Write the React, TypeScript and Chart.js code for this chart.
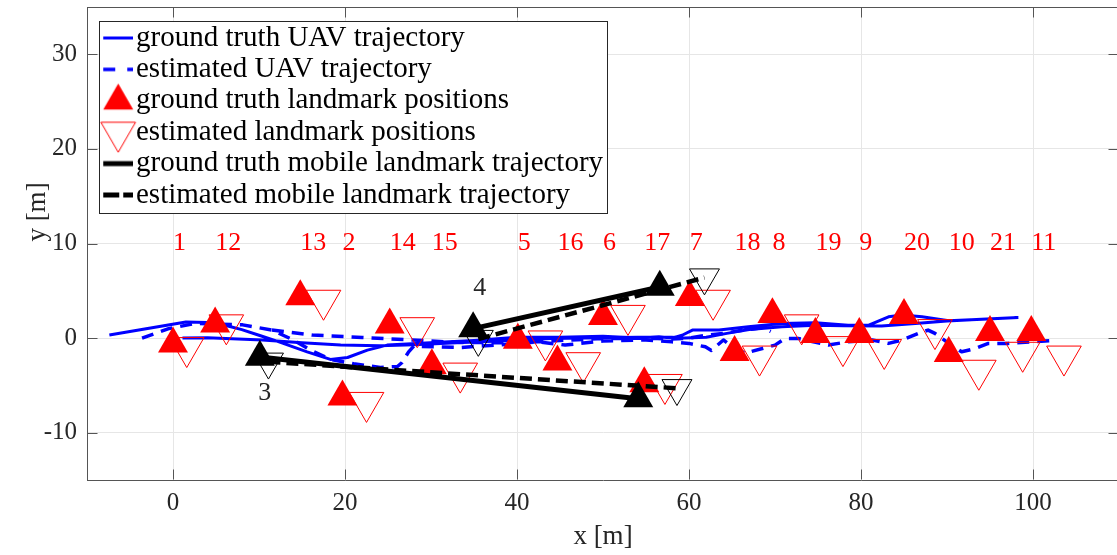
import React, { useEffect, useRef } from 'react';
import { Chart, registerables } from 'chart.js';

Chart.register(...registerables);

const FONT = "'Liberation Serif', 'Times New Roman', serif";
const BLUE = '#0000ff';
const RED = '#ff0000';
const BLACK = '#000000';

// axes
const xRange = [-10, 110];
const yRange = [-15, 35];
const xTicks = [0, 20, 40, 60, 80, 100];
const yTicks = [-10, 0, 10, 20, 30];
const xTitle = 'x [m]';
const yTitle = 'y [m]';

// static landmarks (label ids, ground truth, estimates)
const landmarkIds = [1, 12, 13, 2, 14, 15, 5, 16, 6, 17, 7, 18, 8, 19, 9, 20, 10, 21, 11];
const gtLandmarkX = [0, 4.9, 14.8, 19.7, 25.2, 30.1, 40.1, 44.7, 50.0, 54.8, 60.1, 65.3, 69.7, 74.7, 79.8, 85.0, 90.2, 95.0, 99.8];
const gtLandmarkY = [-0.6, 1.5, 4.4, -6.2, 1.4, -2.9, -0.2, -2.5, 2.3, -4.8, 4.3, -1.5, 2.5, 0.4, 0.4, 2.4, -1.6, 0.6, 0.6];
const estLandmarkX = [1.6, 6.2, 17.5, 22.5, 28.4, 33.4, 43.3, 47.7, 52.9, 57.2, 62.8, 68.2, 73.1, 77.9, 82.7, 88.6, 93.7, 98.8, 103.6];
const estLandmarkY = [-1.0, 1.4, 4.0, -6.8, 1.1, -3.7, -0.3, -2.6, 2.4, -4.9, 4.0, -1.9, 1.4, -0.9, -1.2, 0.9, -3.4, -1.5, -1.9];
const landmarkLabelY = 10;

// mobile landmarks 3 and 4
const mobileIds = [3, 4];
const gtMobileStart = [[10.1, -2.0], [34.9, 1.0]];
const gtMobileEnd = [[54.1, -6.4], [56.6, 5.4]];
const estMobileStart = [[11.1, -2.5], [35.5, -0.1]];
const estMobileEnd = [[58.6, -5.3], [61.8, 6.4]];
const mobileLabelPos = [[9.9, -5.8], [34.9, 5.3]];

// UAV trajectories (two passes each)
const gtUavA = [[-7.4, 0.32], [1.5, 1.7], [4, 1.65], [6.5, 1.25], [8, 0.9], [10, 0.3], [12, -0.3], [15.6, -1.45], [18.3, -2.25], [20.3, -2.05], [22.6, -1.27], [24.9, -0.74], [27.2, -0.63], [31, -0.45], [35, -0.25], [40, 0.1], [45, 0.1], [50, 0.2], [54, 0.0], [56.5, 0.14], [58, 0.0], [59.2, 0.3], [60.4, 0.85], [63.5, 0.85], [66.9, 1.2], [70.8, 1.55], [74.7, 1.62], [78.5, 1.37], [80.9, 1.37], [83.2, 2.25], [84.8, 2.43], [87.1, 2.25], [90.2, 1.83], [94.1, 1.98], [98.3, 2.19]];
const gtUavB = [[1.1, 0.0], [4, 0.05], [10.4, -0.2], [15, -0.5], [19.5, -0.74], [24, -0.8], [28, -0.7], [33, -0.5], [38, -0.3], [44, -0.05], [50, 0.05], [54, 0.1], [58, 0.1], [59.5, 0.0], [62, 0.1], [64.4, 0.5], [67, 0.9], [70.8, 1.2], [74.7, 1.37], [78, 1.3], [82.4, 1.27], [86.3, 1.55], [90, 1.8], [94, 2.0], [98.3, 2.19]];
const estUavA = [[-3.6, 0.0], [-0.5, 1.0], [2.6, 1.55], [8.1, 1.4], [11.5, 0.85], [14, -0.2], [16, -1.27], [18.3, -2.25], [21, -2.7], [24.1, -3.1], [26.1, -3.0], [26.6, -2.6], [27.4, -1.45], [28, -0.85], [33.4, -1.0], [38.6, -0.67], [42.5, -0.39], [45.6, -0.74], [50, -0.3], [55, -0.2], [58, -0.39], [60, -0.56], [61.9, -0.92], [62.6, -1.3], [64, -0.2], [64.7, -0.7], [66.5, -1.6], [70, -0.74], [71.2, -0.03], [72.7, -0.03], [76.2, -0.74], [78.5, -0.39], [81.3, -0.2], [83.2, -0.56], [84.8, -0.2], [86.7, 0.5], [87.8, 0.85], [88.6, 0.5], [90.2, -0.56], [91.7, -1.45], [93.3, -1.1], [94.8, -0.56], [97.1, -0.56], [102.1, -0.28]];
const estUavB = [[11.5, 0.85], [16.2, 0.32], [22, 0.07], [27.8, -0.2], [33, -0.45], [40, -0.5], [45, -0.25], [50, -0.05], [55, 0.0], [58, -0.1], [60, 0.0], [62, 0.3], [64, 0.5], [66, 0.8], [68.5, 1.1], [69.5, 0.7]];

const legendTexts = [
  'ground truth UAV trajectory',
  'estimated UAV trajectory',
  'ground truth landmark positions',
  'estimated landmark positions',
  'ground truth mobile landmark trajectory',
  'estimated mobile landmark trajectory',
];

const pts = (xs: number[], ys: number[]) => xs.map((x, i) => ({ x, y: ys[i] }));
const segs = (...list: number[][][]) => {
  const out: any[] = [];
  list.forEach((seg, k) => {
    if (k > 0) out.push({ x: seg[0][0], y: null });
    seg.forEach(([x, y]) => out.push({ x, y }));
  });
  return out;
};
const pairPts = (pairs: number[][]) => pairs.map(([x, y]) => ({ x, y }));

// legend geometry (pixels)
const LEG_FONT = 29;
const LEG_STEP = 31.4;
const LEG_PAD = LEG_STEP - LEG_FONT;
const LEG_SAMPLE_X = 118;
const LEG_TEXT_X = 136;
const LEG_ROW1_Y = 38;
const LEG_BOX = { left: 99, top: 21, right: 607, bottom: 213 };
const LEG_LEFT = 99.5;
const LEG_CURSOR_X = LEG_LEFT + LEG_PAD;
const LEG_BOXW = LEG_TEXT_X - LEG_FONT / 2 - LEG_CURSOR_X;
const LEG_SHIFT = LEG_SAMPLE_X - (LEG_CURSOR_X + LEG_BOXW / 2);
const TICK_LEN = 10;
const Y_TITLE_POS = [38, 212];

function shifted(src: HTMLCanvasElement, d: number) {
  const c = document.createElement('canvas');
  const pad = Math.max(0, Math.round(2 * d));
  c.width = src.width + pad; c.height = src.height;
  c.getContext('2d')!.drawImage(src, pad, 0);
  return c;
}
function lineImg(color: string, width: number, dash: number[]) {
  const c = document.createElement('canvas');
  c.width = 30; c.height = 10;
  const g = c.getContext('2d')!;
  g.strokeStyle = color; g.lineWidth = width; g.setLineDash(dash);
  g.beginPath(); g.moveTo(0, 5); g.lineTo(30, 5); g.stroke();
  return shifted(c, LEG_SHIFT);
}
function triImg(fill: string | null, stroke: string | null, r: number, down: boolean) {
  const s = Math.ceil(2 * r + 4);
  const c = document.createElement('canvas');
  c.width = s; c.height = s;
  const g = c.getContext('2d')!;
  const cx = s / 2;
  let rad = down ? Math.PI : 0;
  g.beginPath();
  for (let k = 0; k < 3; k++) {
    const px = cx + Math.sin(rad) * r, py = cx - Math.cos(rad) * r;
    if (k === 0) g.moveTo(px, py); else g.lineTo(px, py);
    rad += (2 * Math.PI) / 3;
  }
  g.closePath();
  if (fill) { g.fillStyle = fill; g.fill(); }
  if (stroke) { g.strokeStyle = stroke; g.lineWidth = 1; g.stroke(); }
  return shifted(c, LEG_SHIFT);
}

export default function App() {
  const ref = useRef<HTMLCanvasElement>(null);
  useEffect(() => {
    document.body.style.margin = '0';
    const legendImgs = [
      lineImg(BLUE, 3, []),
      lineImg(BLUE, 3.5, [12, 12]),
      triImg(RED, null, 17.3, false),
      triImg(null, RED, 20, true),
      lineImg(BLACK, 5, []),
      lineImg(BLACK, 5, [16, 4]),
    ];

    const framePlugin = {
      id: 'frame',
      afterLayout(chart: any) {
        const lg = chart.legend;
        if (!lg) return;
        const w = lg.width, h = lg.height;
        const top = LEG_ROW1_Y - LEG_FONT / 2 - LEG_PAD;
        lg.left = LEG_LEFT; lg.top = top; lg.right = LEG_LEFT + w; lg.bottom = top + h;
        if (!lg._bgPatched) {
          const orig = lg.draw;
          lg.draw = function (...args: any[]) {
            const ctx = chart.ctx;
            ctx.save();
            ctx.fillStyle = '#ffffff';
            ctx.fillRect(LEG_BOX.left, LEG_BOX.top, LEG_BOX.right - LEG_BOX.left, LEG_BOX.bottom - LEG_BOX.top);
            ctx.strokeStyle = '#262626';
            ctx.lineWidth = 1;
            ctx.strokeRect(LEG_BOX.left + 0.5, LEG_BOX.top + 0.5, LEG_BOX.right - LEG_BOX.left, LEG_BOX.bottom - LEG_BOX.top);
            ctx.restore();
            return orig.apply(this, args);
          };
          lg._bgPatched = true;
        }
      },
      beforeDatasetsDraw(chart: any) {
        const { ctx, chartArea: a } = chart;
        const xs = chart.scales.x, ys = chart.scales.y;
        ctx.save();
        ctx.strokeStyle = '#555555';
        ctx.lineWidth = 1;
        ctx.beginPath();
        const top = Math.round(a.top) + 0.5;
        const right = Math.round(a.right) - 0.5;
        const bottom = Math.round(a.bottom) - 0.5;
        const left = Math.round(a.left) + 0.5;
        ctx.moveTo(a.left, top); ctx.lineTo(a.right, top);
        ctx.moveTo(right, a.top); ctx.lineTo(right, a.bottom);
        xTicks.forEach((v) => {
          const px = Math.round(xs.getPixelForValue(v)) + 0.5;
          ctx.moveTo(px, bottom); ctx.lineTo(px, bottom - TICK_LEN);
          ctx.moveTo(px, top); ctx.lineTo(px, top + TICK_LEN);
        });
        yTicks.forEach((v) => {
          const py = Math.round(ys.getPixelForValue(v)) + 0.5;
          ctx.moveTo(left, py); ctx.lineTo(left + TICK_LEN, py);
          ctx.moveTo(right, py); ctx.lineTo(right - TICK_LEN, py);
        });
        ctx.stroke();
        ctx.restore();
      },
      afterDatasetsDraw(chart: any) {
        const { ctx } = chart;
        const xs = chart.scales.x, ys = chart.scales.y;
        ctx.save();
        ctx.font = `26px ${FONT}`;
        ctx.textAlign = 'left';
        ctx.textBaseline = 'middle';
        ctx.fillStyle = RED;
        landmarkIds.forEach((id, i) => {
          ctx.fillText(String(id), xs.getPixelForValue(gtLandmarkX[i]), ys.getPixelForValue(landmarkLabelY));
        });
        ctx.fillStyle = '#262626';
        mobileIds.forEach((id, i) => {
          ctx.fillText(String(id), xs.getPixelForValue(mobileLabelPos[i][0]), ys.getPixelForValue(mobileLabelPos[i][1]));
        });
        // y axis title
        ctx.font = `27px ${FONT}`;
        ctx.textAlign = 'center';
        ctx.translate(Y_TITLE_POS[0], Y_TITLE_POS[1]);
        ctx.rotate(-Math.PI / 2);
        ctx.fillText(yTitle, 0, 0);
        ctx.restore();
      },
    };

    const lineDs = (label: string, data: any[], color: string, width: number, dash: number[], order: number) => ({
      label, data, showLine: true, borderColor: color, borderWidth: width, borderDash: dash,
      borderJoinStyle: 'round', borderCapStyle: 'butt', pointRadius: 0, pointHoverRadius: 0, spanGaps: false, order,
    });

    const chart = new Chart(ref.current!, {
      type: 'scatter',
      data: {
        datasets: [
          lineDs('ground truth UAV trajectory', segs(gtUavA, gtUavB), BLUE, 3, [], 7),
          lineDs('estimated UAV trajectory', segs(estUavA, estUavB), BLUE, 3.5, [12, 8], 6),
          {
            label: 'ground truth landmark positions', data: pts(gtLandmarkX, gtLandmarkY), order: 5,
            pointStyle: 'triangle', pointRadius: 17.3, pointBackgroundColor: RED, pointBorderColor: RED, pointBorderWidth: 0,
          },
          {
            label: 'estimated landmark positions', data: pts(estLandmarkX, estLandmarkY), order: 4,
            pointStyle: 'triangle', pointRotation: 180, pointRadius: 20, pointBackgroundColor: 'rgba(0,0,0,0)', pointBorderColor: RED, pointBorderWidth: 1,
          },
          lineDs('ground truth mobile landmark trajectory', segs([gtMobileStart[0], gtMobileEnd[0]], [gtMobileStart[1], gtMobileEnd[1]]), BLACK, 5, [], 3),
          lineDs('estimated mobile landmark trajectory', segs([estMobileStart[0], estMobileEnd[0]], [estMobileStart[1], estMobileEnd[1]]), BLACK, 4.5, [12, 6], 2),
          {
            label: 'gt mobile markers', data: pairPts([...gtMobileStart, ...gtMobileEnd]), order: 1,
            pointStyle: 'triangle', pointRadius: 17.3, pointBackgroundColor: BLACK, pointBorderColor: BLACK, pointBorderWidth: 0,
          },
          {
            label: 'est mobile markers', data: pairPts([...estMobileStart, ...estMobileEnd]), order: 0,
            pointStyle: 'triangle', pointRotation: 180, pointRadius: 17.3, pointBackgroundColor: 'rgba(0,0,0,0)', pointBorderColor: BLACK, pointBorderWidth: 1,
          },
        ] as any,
      },
      options: {
        animation: false,
        responsive: false,
        devicePixelRatio: 1,
        events: [],
        layout: { autoPadding: false, padding: { top: 7, right: 2, left: 0, bottom: 0 } },
        scales: {
          x: {
            type: 'linear', min: xRange[0], max: xRange[1], bounds: 'data',
            afterBuildTicks: (s: any) => { s.ticks = xTicks.map((v) => ({ value: v })); },
            afterFit: (s: any) => { s.height = 75; s.paddingLeft = 0; s.paddingRight = 0; },
            grid: { color: '#e6e6e6', lineWidth: 1, drawTicks: false },
            border: { display: true, color: '#555555', width: 1 },
            ticks: { autoSkip: false, maxRotation: 0, padding: 8, color: '#262626', font: { family: FONT, size: 25 } },
            title: { display: true, text: xTitle, color: '#262626', font: { family: FONT, size: 27 }, padding: { top: 0, bottom: 2 } },
          },
          y: {
            type: 'linear', min: yRange[0], max: yRange[1], bounds: 'data',
            afterBuildTicks: (s: any) => { s.ticks = yTicks.map((v) => ({ value: v })); },
            afterFit: (s: any) => { s.width = 87; s.paddingTop = 0; s.paddingBottom = 0; },
            grid: { color: '#e6e6e6', lineWidth: 1, drawTicks: false },
            border: { display: true, color: '#555555', width: 1 },
            ticks: { autoSkip: false, padding: 10, color: '#262626', font: { family: FONT, size: 25 } },
            title: { display: false },
          },
        },
        plugins: {
          tooltip: { enabled: false },
          legend: {
            position: 'chartArea' as any,
            align: 'start',
            labels: {
              usePointStyle: true,
              pointStyleWidth: LEG_BOXW,
              padding: LEG_PAD,
              color: '#000000',
              font: { family: FONT, size: LEG_FONT },
              generateLabels: () => legendTexts.map((text, i) => ({
                text, pointStyle: legendImgs[i] as any, fillStyle: 'rgba(0,0,0,0)', strokeStyle: 'rgba(0,0,0,0)',
                lineWidth: 0, hidden: false, datasetIndex: i, fontColor: '#000000',
              })),
            },
          },
        },
      } as any,
      plugins: [framePlugin],
    });
    return () => chart.destroy();
  }, []);

  return (
    <div style={{ position: 'fixed', left: 0, top: 0, width: 1117, height: 555, overflow: 'hidden', background: '#ffffff' }}>
      <canvas ref={ref} width={1121} height={555} style={{ width: 1121, height: 555, display: 'block' }} />
    </div>
  );
}
